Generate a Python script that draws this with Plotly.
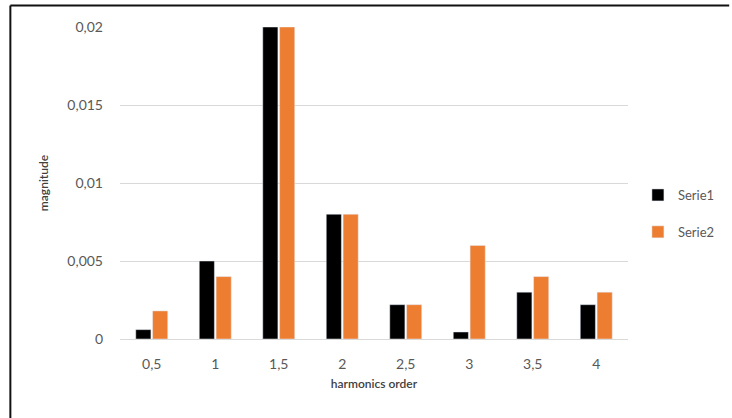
import plotly.graph_objects as go

categories = ["0,5", "1", "1,5", "2", "2,5", "3", "3,5", "4"]
serie1 = [0.0006, 0.005, 0.02, 0.008, 0.0022, 0.00045, 0.003, 0.0022]
serie2 = [0.0018, 0.004, 0.02, 0.008, 0.0022, 0.006, 0.004, 0.003]
y_ticks = [0, 0.005, 0.01, 0.015, 0.02]
y_ticktext = ["0", "0,005", "0,01", "0,015", "0,02"]

FONT = "Lato, Open Sans, sans-serif"

fig = go.Figure()
fig.add_trace(go.Bar(x=categories, y=serie1, name="Serie1", marker_color="#000000",
                     legendgroup="a"))
fig.add_trace(go.Bar(x=categories, y=serie2, name="Serie2", marker_color="#ED7D31",
                     legendgroup="b"))

L, R, T, B = 120, 100, 27, 79
W, H = 732, 418
pw, ph = W - L - R, H - T - B

def px2x(p):
    return (p - L) / pw

def px2y(p):
    return (H - B - p) / ph

fig.update_layout(
    width=W, height=H,
    margin=dict(l=L, r=R, t=T, b=B),
    paper_bgcolor="white", plot_bgcolor="white",
    barmode="group", bargap=0.47, bargroupgap=0.1,
    font=dict(family=FONT, color="#595959", size=12),
    xaxis=dict(
        title=dict(text="harmonics order",
                   font=dict(size=12, color="#404040", family=FONT, weight=600), standoff=8),
        showgrid=False, showline=True, linecolor="#D9D9D9", ticks="",
        ticklabelstandoff=12,
        tickfont=dict(size=14, color="#595959"),
    ),
    yaxis=dict(
        title=dict(text="magnitude",
                   font=dict(size=12, color="#404040", family=FONT, weight=600), standoff=16),
        range=[0, 0.02], tickvals=y_ticks, ticktext=y_ticktext,
        showgrid=True, gridcolor="#D9D9D9", zeroline=False, showline=False, ticks="",
        ticklabelstandoff=16,
        tickfont=dict(size=14, color="#595959"),
    ),
    legend=dict(x=px2x(642), y=px2y(180), xanchor="left", yanchor="top",
                font=dict(size=13, color="#595959"), tracegroupgap=17,
                itemwidth=30, bgcolor="rgba(0,0,0,0)"),
    showlegend=True,
)

fig.add_shape(type="line", xref="paper", yref="paper",
              x0=px2x(9.5), x1=px2x(W + 2), y0=px2y(5.5), y1=px2y(5.5),
              line=dict(color="#111111", width=2))
fig.add_shape(type="line", xref="paper", yref="paper",
              x0=px2x(9.5), x1=px2x(9.5), y0=px2y(5.5), y1=px2y(H + 2),
              line=dict(color="#111111", width=2))

fig.write_html("out.html", config={"displayModeBar": False},
               post_script="document.body.style.margin='0';document.body.style.overflow='hidden';")
